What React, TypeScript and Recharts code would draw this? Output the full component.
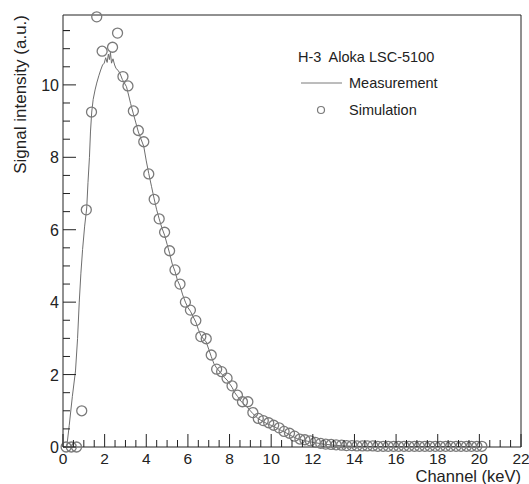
import React from 'react';
import {
  ComposedChart, Line, Scatter, XAxis, YAxis, ReferenceLine, Legend,
} from 'recharts';

// Measured spectrum (keV, a.u.)
const measKeV = [
  0, 0.18, 0.3, 0.45, 0.6, 0.7, 0.78, 0.86, 0.94, 1.04, 1.14, 1.2, 1.27, 1.32, 1.38, 1.45,
  1.54, 1.62, 1.72, 1.81, 1.9, 1.98, 2.05, 2.12, 2.18, 2.23, 2.28, 2.33, 2.4, 2.48, 2.55,
  2.65, 2.75, 2.85, 2.95, 3.05, 3.15, 3.25, 3.38, 3.5, 3.62, 3.75, 3.88, 4.0, 4.12, 4.25,
  4.38, 4.5, 4.62, 4.75, 4.88, 5.0, 5.12, 5.25, 5.38, 5.5, 5.62, 5.75, 5.88, 6.0, 6.12,
  6.25, 6.38, 6.5, 6.62, 6.75, 6.88, 7.0, 7.12, 7.25, 7.38, 7.5, 7.62, 7.75, 7.88, 8.0,
  8.12, 8.25, 8.38, 8.5, 8.62, 8.75, 8.88, 9.0, 9.12, 9.25, 9.38, 9.5, 9.62, 9.75, 9.88,
  10.0, 10.25, 10.5, 10.75, 11.0, 11.25, 11.5, 11.75, 12.0, 12.5, 13.0, 13.5, 14.0, 15.0,
  16.0, 17.0, 18.0, 19.0, 20.0,
];
const measSignal = [
  0, 0, 0.6, 1.4, 2.1, 3.0, 4.0, 4.8, 5.45, 6.1, 6.6, 7.3, 8.0, 8.7, 9.25, 9.6,
  9.86, 10.05, 10.25, 10.41, 10.55, 10.6, 10.75, 10.62, 10.85, 10.7, 10.9, 10.6, 10.72, 10.55, 10.45,
  10.4, 10.3, 10.15, 10.05, 9.95, 9.72, 9.48, 9.2, 8.95, 8.7, 8.5, 8.3, 7.9, 7.55, 7.2,
  6.85, 6.55, 6.3, 6.05, 5.85, 5.6, 5.35, 5.05, 4.85, 4.6, 4.45, 4.2, 4.0, 3.85, 3.75,
  3.6, 3.45, 3.25, 3.08, 2.98, 2.9, 2.7, 2.5, 2.3, 2.18, 2.1, 2.02, 1.92, 1.85, 1.75,
  1.65, 1.5, 1.4, 1.3, 1.22, 1.15, 1.08, 1.0, 0.92, 0.85, 0.78, 0.74, 0.7, 0.66, 0.62,
  0.6, 0.53, 0.45, 0.38, 0.3, 0.23, 0.19, 0.16, 0.13, 0.08, 0.05, 0.03, 0.02, 0.01,
  0.01, 0.01, 0.01, 0.01, 0,
];

// Simulated spectrum (keV, a.u.)
const simKeV = [
  0.15, 0.4, 0.65, 0.9, 1.12, 1.37, 1.62, 1.88, 2.38, 2.62, 2.88, 3.12, 3.38, 3.62, 3.88,
  4.12, 4.38, 4.62, 4.88, 5.12, 5.38, 5.62, 5.88, 6.12, 6.38, 6.62, 6.88, 7.12, 7.38, 7.62,
  7.88, 8.12, 8.38, 8.62, 8.88, 9.12, 9.38, 9.62, 9.88, 10.12, 10.38, 10.62, 10.88, 11.12,
  11.38, 11.62, 11.88, 12.12, 12.38, 12.62, 12.88, 13.12, 13.38, 13.62, 13.88, 14.12, 14.38,
  14.62, 14.88, 15.12, 15.38, 15.62, 15.88, 16.12, 16.38, 16.62, 16.88, 17.12, 17.38, 17.62,
  17.88, 18.12, 18.38, 18.62, 18.88, 19.12, 19.38, 19.62, 19.88, 20.12,
];
const simSignal = [
  0, 0, 0, 1.0, 6.55, 9.25, 11.88, 10.93, 11.04, 11.43, 10.23, 9.97, 9.28, 8.74, 8.43,
  7.54, 6.84, 6.3, 5.93, 5.42, 4.89, 4.5, 4.0, 3.78, 3.49, 3.05, 2.99, 2.54, 2.15, 2.08,
  1.9, 1.69, 1.43, 1.25, 1.25, 0.95, 0.79, 0.73, 0.67, 0.6, 0.53, 0.43, 0.38, 0.3,
  0.22, 0.2, 0.17, 0.13, 0.1, 0.08, 0.07, 0.06, 0.05, 0.04, 0.04, 0.03, 0.03,
  0.03, 0.03, 0.02, 0.02, 0.02, 0.02, 0.02, 0.02, 0.02, 0.02, 0.02, 0.02, 0.02,
  0.02, 0.02, 0.02, 0.02, 0.02, 0.02, 0.02, 0.02, 0.02, 0.02,
];

const xMajor = [0, 2, 4, 6, 8, 10, 12, 14, 16, 18, 20, 22];
const yMajor = [0, 2, 4, 6, 8, 10];
const xMax = 22;
const yMax = 11.93;

const measData = measKeV.map((x, i) => ({ x, y: measSignal[i] }));
const simData = simKeV.map((x, i) => ({ x, y: simSignal[i] }));

// majors plus a minor tick every 0.5
const xTicks = xMajor.flatMap(v => (v < xMax ? [v, v + 0.5, v + 1, v + 1.5] : [v]));
const yTicks = [...yMajor.flatMap(v => [v, v + 0.5, v + 1, v + 1.5]), 11.5];

const FONT = '"Liberation Sans", Arial, Helvetica, sans-serif';
const AXIS = '#222';
const MARK = '#7a7a7a';
const TEXT = '#222';

// ROOT-style ticks pointing into the frame
const XTick = (props: any) => {
  const { x, y, payload } = props;
  const major = payload.value % 2 === 0;
  return (
    <g>
      <line x1={x} x2={x} y1={y} y2={y - (major ? 13 : 7)} stroke={AXIS} />
      {major && (
        <text x={x} y={y + 17} textAnchor="middle" fontSize={15.5} fontFamily={FONT} fill={TEXT}>
          {payload.value}
        </text>
      )}
    </g>
  );
};

const YTick = (props: any) => {
  const { x, y, payload } = props;
  const major = payload.value % 2 === 0;
  return (
    <g>
      <line x1={x} x2={x + (major ? 13 : 7)} y1={y} y2={y} stroke={AXIS} />
      {major && (
        <text x={x - 4} y={y + 6} textAnchor="end" fontSize={16} fontFamily={FONT} fill={TEXT}>
          {payload.value}
        </text>
      )}
    </g>
  );
};

const Ring = (props: any) => (
  <circle cx={props.cx} cy={props.cy} r={5} fill="none" stroke={MARK} strokeWidth={1.3} />
);

const LegendBox = () => (
  <svg width={175} height={90} style={{ fontFamily: FONT, fontSize: 14.5 }}>
    <text x={5} y={22} fill={TEXT}>{'H-3\u00a0 Aloka LSC-5100'}</text>
    <line x1={8} x2={49} y1={43} y2={43} stroke={MARK} />
    <text x={56} y={48} fill={TEXT}>Measurement</text>
    <circle cx={28} cy={70} r={3.5} fill="none" stroke={MARK} strokeWidth={1.2} />
    <text x={56} y={75} fill={TEXT}>Simulation</text>
  </svg>
);

export default function App() {
  return (
    <div style={{ position: 'absolute', left: 0, top: 0, background: '#fff' }}>
      <ComposedChart
        width={529}
        height={484}
        margin={{ top: 15, right: 8, left: 62, bottom: 36 }}
      >
        <XAxis
          dataKey="x"
          type="number"
          domain={[0, xMax]}
          ticks={xTicks}
          interval={0}
          height={1}
          tickSize={0}
          tickMargin={0}
          tickLine={false}
          tick={<XTick />}
          stroke={AXIS}
        />
        <YAxis
          dataKey="y"
          type="number"
          domain={[0, yMax]}
          ticks={yTicks}
          interval={0}
          width={1}
          tickSize={0}
          tickMargin={0}
          tickLine={false}
          tick={<YTick />}
          stroke={AXIS}
        />
        <ReferenceLine y={yMax} stroke={AXIS} />
        <ReferenceLine x={xMax} stroke={AXIS} />
        <Line
          data={measData}
          dataKey="y"
          type="linear"
          stroke="#6e6e6e"
          strokeWidth={1}
          dot={false}
          isAnimationActive={false}
        />
        <Scatter
          data={simData}
          dataKey="y"
          shape={<Ring />}
          isAnimationActive={false}
        />
        <Legend
          layout="vertical"
          align="center"
          verticalAlign="middle"
          content={<LegendBox />}
          wrapperStyle={{ position: 'absolute', left: 293, top: 40, width: 175, height: 90 }}
        />
        <text
          x={521}
          y={481.5}
          textAnchor="end"
          fontSize={16.5}
          fontFamily={FONT}
          fill={TEXT}
        >
          Channel (keV)
        </text>
        <text
          transform="translate(26,15) rotate(-90)"
          textAnchor="end"
          fontSize={17}
          fontFamily={FONT}
          fill={TEXT}
        >
          Signal intensity (a.u.)
        </text>
      </ComposedChart>
    </div>
  );
}
